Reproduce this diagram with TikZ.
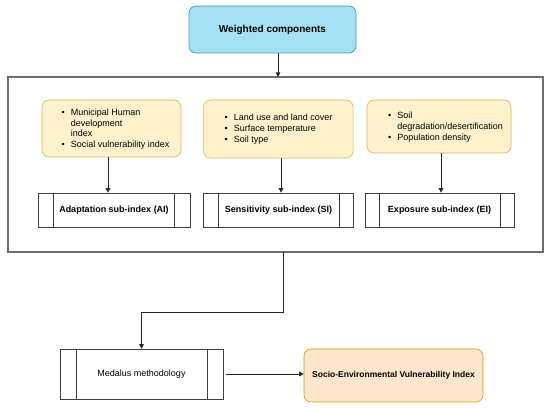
\documentclass[tikz,border=0pt]{standalone}
\usepackage{fontspec}
\setmainfont{Liberation Sans}
\usetikzlibrary{arrows.meta}
\definecolor{wcfill}{HTML}{A5DFF2}
\definecolor{wcdraw}{HTML}{3D9CC4}
\definecolor{yfill}{HTML}{FFF2CC}
\definecolor{ydraw}{HTML}{D6B656}
\definecolor{ofill}{HTML}{FFE6CC}
\definecolor{odraw}{HTML}{D79B00}
\definecolor{framegray}{HTML}{6E6E6E}
\tikzset{
  arr/.style={draw=black!85, line width=0.7pt, -{Triangle[length=4.5pt,width=4.5pt]}},
  yellowbox/.style={rectangle, rounded corners=7pt, draw=ydraw, fill=yfill, line width=0.6pt, inner sep=0pt},
  procbox/.style={rectangle, draw=black!75, line width=0.6pt, inner sep=0pt,
    font=\fontsize{9}{11}\selectfont\bfseries,
    path picture={
      \draw[black!75, line width=0.6pt] ([xshift=#1]path picture bounding box.north west) -- ([xshift=#1]path picture bounding box.south west);
      \draw[black!75, line width=0.6pt] ([xshift=-#1]path picture bounding box.north east) -- ([xshift=-#1]path picture bounding box.south east);
    }},
  bl/.style={font=\fontsize{9}{10.6}\selectfont, align=left, inner sep=0pt, anchor=base west},
}
\begin{document}
\begin{tikzpicture}[x=1pt,y=-1pt]
\useasboundingbox (0,0) rectangle (550,409);
% top box
\node[rectangle, rounded corners=7pt, draw=wcdraw, fill=wcfill, line width=0.7pt,
  minimum width=167pt, minimum height=47pt, font=\fontsize{10}{12}\selectfont\bfseries]
  (wc) at (272.5,29.5) {Weighted components};
% frame
\node[rectangle, draw=framegray, line width=1.8pt, minimum width=535pt, minimum height=175pt, inner sep=0pt] (frame) at (275.5,164.5) {};
\coordinate (ftop) at (278,77);
\draw[arr] (wc.south -| ftop) -- (ftop);
% yellow boxes
\node[yellowbox, minimum width=139pt, minimum height=57pt] (y1) at (111.5,128.5) {};
\node[yellowbox, minimum width=149.5pt, minimum height=58pt] (y2) at (278.3,129) {};
\node[yellowbox, minimum width=144pt, minimum height=53pt] (y3) at (439,126.5) {};
\node[bl] (t1) at (61.5,115.5) {\begin{tabular}[t]{@{}l@{\hspace{6pt}}l@{}}\textbullet & Municipal Human\\ & development\\ & index\\ \textbullet & Social vulnerability index\end{tabular}};
\node[bl] (t2) at (224.5,121) {\begin{tabular}[t]{@{}l@{\hspace{6pt}}l@{}}\textbullet & Land use and land cover\\ \textbullet & Surface temperature\\ \textbullet & Soil type\end{tabular}};
\node[bl] (t3) at (388,119) {\begin{tabular}[t]{@{}l@{\hspace{6pt}}l@{}}\textbullet & Soil\\ & degradation/desertification\\ \textbullet & Population density\end{tabular}};
% process boxes
\node[procbox=15.7pt, minimum width=152pt, minimum height=34pt] (p1) at (114,210) {Adaptation sub-index (AI)};
\node[procbox=14.5pt, minimum width=150pt, minimum height=34pt] (p2) at (278.5,210) {Sensitivity sub-index (SI)};
\node[procbox=14pt, minimum width=149pt, minimum height=34pt] (p3) at (439.5,210) {Exposure sub-index (EI)};
\coordinate (a1) at (108,0);
\coordinate (a2) at (281,0);
\coordinate (a3) at (441,0);
\draw[arr] (y1.south -| a1) -- (p1.north -| a1);
\draw[arr] (y2.south -| a2) -- (p2.north -| a2);
\draw[arr] (y3.south -| a3) -- (p3.north -| a3);
% bottom
\node[procbox=16pt, minimum width=163pt, minimum height=50pt, font=\fontsize{9}{11}\selectfont] (med) at (141.5,374) {Medalus methodology};
\node[rectangle, rounded corners=7pt, draw=odraw, fill=ofill, line width=0.6pt,
  minimum width=179pt, minimum height=53pt, font=\fontsize{8.5}{10}\selectfont\bfseries]
  (sevi) at (393.5,375.5) {Socio-Environmental Vulnerability Index};
\coordinate (fb) at (283,252);
\draw[arr] (fb) -- ++(0,60) -| (med.north);
\draw[arr, shorten <=3pt] (med.east) -- (med.east -| sevi.west);
\end{tikzpicture}
\end{document}
